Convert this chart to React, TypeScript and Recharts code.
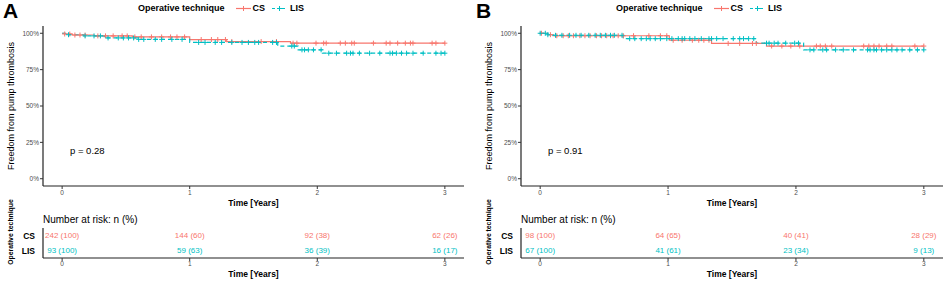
import React from "react";
import { ComposedChart, Line, Scatter, XAxis, YAxis } from "recharts";

const RED = "#F8766D";
const TEAL = "#00BFC4";
const FONT = "'Liberation Sans', Arial, sans-serif";

// Panel A: step times and survival
const csTimesA = [0, 0.02, 0.08, 0.25, 0.55, 1.0, 1.29, 1.79, 3.0];
const csSurvA = [1, 0.995, 0.988, 0.982, 0.975, 0.957, 0.943, 0.932, 0.932];
const lisTimesA = [0, 0.05, 0.17, 0.33, 0.6, 1.0, 1.69, 1.85, 2.04, 3.0];
const lisSurvA = [1, 0.99, 0.982, 0.968, 0.958, 0.937, 0.912, 0.886, 0.863, 0.863];

// Panel A: censor times
const csCensA = [0.02, 0.06, 0.1, 0.14, 0.18, 0.28, 0.34, 0.4, 0.47, 0.51, 0.57, 0.62, 0.7, 0.78, 0.85, 0.9, 0.96, 1.09, 1.17, 1.22, 1.28, 1.33, 1.56, 1.68, 1.81, 1.84, 1.99, 2.05, 2.07, 2.18, 2.22, 2.27, 2.29, 2.44, 2.54, 2.57, 2.63, 2.69, 2.73, 2.75, 2.9, 2.93, 3.0];
const lisCensA = [0.05, 0.18, 0.25, 0.3, 0.36, 0.44, 0.48, 0.52, 0.56, 0.6, 0.64, 0.73, 0.78, 0.86, 0.94, 1.07, 1.12, 1.2, 1.25, 1.33, 1.41, 1.46, 1.51, 1.54, 1.65, 1.68, 1.8, 1.82, 1.88, 1.9, 1.93, 1.97, 2.03, 2.09, 2.15, 2.23, 2.26, 2.28, 2.33, 2.41, 2.49, 2.57, 2.59, 2.62, 2.66, 2.7, 2.75, 2.83, 2.93, 2.97, 3.0];

// Panel B: step times and survival
const csTimesB = [0, 0.06, 0.1, 1.01, 1.34, 1.77, 3.0];
const csSurvB = [1, 0.99, 0.983, 0.952, 0.93, 0.912, 0.912];
const lisTimesB = [0, 0.06, 0.1, 0.65, 1.69, 2.06, 3.0];
const lisSurvB = [1, 0.99, 0.986, 0.963, 0.932, 0.886, 0.886];

// Panel B: censor times
const csCensB = [0.01, 0.08, 0.13, 0.18, 0.22, 0.26, 0.31, 0.35, 0.39, 0.44, 0.48, 0.52, 0.55, 0.57, 0.61, 0.65, 0.73, 0.85, 0.94, 0.99, 1.04, 1.11, 1.19, 1.24, 1.28, 1.32, 1.47, 1.56, 1.66, 1.69, 1.81, 1.89, 1.96, 2.03, 2.16, 2.19, 2.23, 2.28, 2.53, 2.57, 2.61, 2.65, 2.71, 2.75, 2.93, 3.0];
const lisCensB = [0.0, 0.04, 0.06, 0.12, 0.17, 0.23, 0.28, 0.32, 0.38, 0.43, 0.47, 0.51, 0.55, 0.58, 0.64, 0.7, 0.74, 0.79, 0.83, 0.86, 0.9, 0.94, 0.99, 1.03, 1.08, 1.11, 1.13, 1.17, 1.21, 1.26, 1.32, 1.34, 1.38, 1.43, 1.51, 1.56, 1.59, 1.63, 1.67, 1.77, 1.79, 1.83, 1.86, 1.92, 1.99, 2.02, 2.11, 2.14, 2.21, 2.24, 2.31, 2.37, 2.45, 2.56, 2.58, 2.61, 2.63, 2.67, 2.71, 2.75, 2.79, 2.83, 2.89, 2.95, 3.0];

// Number at risk
const riskTimes = [0, 1, 2, 3];
const csRiskA = ["242 (100)", "144 (60)", "92 (38)", "62 (26)"];
const lisRiskA = ["93 (100)", "59 (63)", "36 (39)", "16 (17)"];
const csRiskB = ["98 (100)", "64 (65)", "40 (41)", "28 (29)"];
const lisRiskB = ["67 (100)", "41 (61)", "23 (34)", "9 (13)"];

const xTicks = [0, 1, 2, 3];
const yTicks = [0, 0.25, 0.5, 0.75, 1];

const steps = (times: number[], surv: number[]) => times.map((t, i) => ({ t, s: surv[i] }));

const survAt = (times: number[], surv: number[], t: number) => {
  let s = surv[0];
  times.forEach((tt, i) => {
    if (tt <= t) s = surv[i];
  });
  return s;
};

const censors = (cens: number[], times: number[], surv: number[]) =>
  cens.map((t) => ({ t, s: survAt(times, surv, t) }));

const riskRows = (labels: string[], row: number) => riskTimes.map((t, i) => ({ t, row, label: labels[i] }));

const plusShape = (color: string) => (props: any) => {
  const { cx, cy } = props;
  return <path d={`M${cx - 2.5},${cy}h5M${cx},${cy - 2.5}v5`} stroke={color} strokeWidth={1} fill="none" />;
};

const textShape = (color: string) => (props: any) => {
  const { cx, cy, payload } = props;
  return (
    <text x={cx} y={cy} textAnchor="middle" dominantBaseline="central" fontSize={8} fill={color}>
      {payload.label}
    </text>
  );
};

const axisStroke = { stroke: "#222", strokeWidth: 1.2 };
const tickStyle = { fontSize: 6.5, fill: "#4D4D4D", stroke: "none" };

function LegendKey({ color, dashed }: { color: string; dashed?: boolean }) {
  return (
    <svg width={15} height={9} style={{ display: "block" }}>
      <line x1={0} y1={4.5} x2={15} y2={4.5} stroke={color} strokeWidth={1.2} strokeDasharray={dashed ? "3 2" : undefined} />
      <path d="M7.5,2v5M5,4.5h5" stroke={color} strokeWidth={1} />
    </svg>
  );
}

function Panel({
  left,
  plotLeft,
  plotRight,
  letter,
  pval,
  cs,
  lis,
  csRisk,
  lisRisk,
}: {
  left: number;
  plotLeft: number;
  plotRight: number;
  letter: string;
  pval: string;
  cs: { times: number[]; surv: number[]; cens: number[] };
  lis: { times: number[]; surv: number[]; cens: number[] };
  csRisk: string[];
  lisRisk: string[];
}) {
  const W = 472;
  const right = W - plotRight;
  const timeLabel = { fontSize: 8.5, fontWeight: "bold", fill: "#000" };

  return (
    <div style={{ position: "absolute", left, top: 0, width: W, height: 281 }}>
      <div style={{ position: "absolute", left: 3, top: -2, fontSize: 21, fontWeight: "bold", lineHeight: "26px" }}>{letter}</div>

      <div style={{ position: "absolute", left: plotLeft + 95, top: 3, display: "flex", alignItems: "center", fontSize: 9, fontWeight: "bold", lineHeight: "11px", whiteSpace: "nowrap" }}>
        <span>Operative technique</span>
        <span style={{ marginLeft: 11 }}><LegendKey color={RED} /></span>
        <span style={{ marginLeft: 2 }}>CS</span>
        <span style={{ marginLeft: 7 }}><LegendKey color={TEAL} dashed /></span>
        <span style={{ marginLeft: 3 }}>LIS</span>
      </div>

      <div style={{ position: "absolute", left: plotLeft - 32, top: 106, transform: "translate(-50%, -50%) rotate(-90deg)", fontSize: 9, whiteSpace: "nowrap", color: "#000" }}>
        Freedom from pump thrombosis
      </div>

      <ComposedChart width={W} height={210} margin={{ top: 26, right, bottom: 0, left: 0 }}>
        <XAxis
          dataKey="t"
          type="number"
          domain={[-0.15, 3.15]}
          ticks={xTicks}
          allowDataOverflow
          height={24}
          tickSize={3}
          tickMargin={1}
          tick={tickStyle}
          axisLine={axisStroke}
          tickLine={{ stroke: "#333" }}
          label={{ value: "Time [Years]", position: "insideBottom", offset: 4.5, style: timeLabel }}
        />
        <YAxis
          type="number"
          domain={[-0.05, 1.05]}
          ticks={yTicks}
          allowDataOverflow
          width={plotLeft}
          tickSize={3}
          tickMargin={1}
          tick={tickStyle}
          axisLine={axisStroke}
          tickLine={{ stroke: "#333" }}
          tickFormatter={(v: number) => `${Math.round(v * 100)}%`}
        />
        <Line data={steps(cs.times, cs.surv)} dataKey="s" type="stepAfter" stroke={RED} strokeWidth={1.2} dot={false} isAnimationActive={false} />
        <Line data={steps(lis.times, lis.surv)} dataKey="s" type="stepAfter" stroke={TEAL} strokeWidth={1.2} strokeDasharray="4 3" dot={false} isAnimationActive={false} />
        <Scatter data={censors(cs.cens, cs.times, cs.surv)} dataKey="s" shape={plusShape(RED)} isAnimationActive={false} />
        <Scatter data={censors(lis.cens, lis.times, lis.surv)} dataKey="s" shape={plusShape(TEAL)} isAnimationActive={false} />
      </ComposedChart>

      <div style={{ position: "absolute", left: plotLeft + 27, top: 150, transform: "translateY(-50%)", fontSize: 9.5, whiteSpace: "nowrap" }}>{pval}</div>

      <div style={{ position: "absolute", left: plotLeft, top: 219, transform: "translateY(-50%)", fontSize: 10, whiteSpace: "nowrap" }}>Number at risk: n (%)</div>

      <div style={{ position: "absolute", left: plotLeft - 33, top: 232, transform: "translate(-50%, -50%) rotate(-90deg)", fontSize: 6.8, fontWeight: "bold", whiteSpace: "nowrap" }}>
        Operative technique
      </div>

      <div style={{ position: "absolute", left: 0, top: 215 }}>
        <ComposedChart width={W} height={66} margin={{ top: 13, right, bottom: 0, left: 0 }}>
          <XAxis
            dataKey="t"
            type="number"
            domain={[-0.15, 3.15]}
            ticks={xTicks}
            allowDataOverflow
            height={23}
            tickSize={3}
            tickMargin={0}
            tick={tickStyle}
            axisLine={axisStroke}
            tickLine={{ stroke: "#333" }}
            label={{ value: "Time [Years]", position: "insideBottom", offset: 4, style: timeLabel }}
          />
          <YAxis
            dataKey="row"
            type="number"
            domain={[0.5, 2.5]}
            ticks={[1, 2]}
            width={plotLeft}
            tickSize={0}
            tickMargin={8}
            tickLine={false}
            axisLine={axisStroke}
            tick={{ fontSize: 8.5, fontWeight: "bold", fill: "#000", stroke: "none" }}
            tickFormatter={(v: number) => (v === 2 ? "CS" : "LIS")}
          />
          <Scatter data={riskRows(csRisk, 2)} dataKey="row" shape={textShape(RED)} isAnimationActive={false} />
          <Scatter data={riskRows(lisRisk, 1)} dataKey="row" shape={textShape(TEAL)} isAnimationActive={false} />
        </ComposedChart>
      </div>
    </div>
  );
}

export default function App() {
  return (
    <div style={{ position: "absolute", left: 0, top: 0, width: 945, height: 281, background: "#fff", overflow: "hidden", fontFamily: FONT }}>
      <Panel
        left={0}
        plotLeft={43}
        plotRight={464}
        letter="A"
        pval="p = 0.28"
        cs={{ times: csTimesA, surv: csSurvA, cens: csCensA }}
        lis={{ times: lisTimesA, surv: lisSurvA, cens: lisCensA }}
        csRisk={csRiskA}
        lisRisk={lisRiskA}
      />
      <Panel
        left={473}
        plotLeft={48}
        plotRight={470}
        letter="B"
        pval="p = 0.91"
        cs={{ times: csTimesB, surv: csSurvB, cens: csCensB }}
        lis={{ times: lisTimesB, surv: lisSurvB, cens: lisCensB }}
        csRisk={csRiskB}
        lisRisk={lisRiskB}
      />
    </div>
  );
}
